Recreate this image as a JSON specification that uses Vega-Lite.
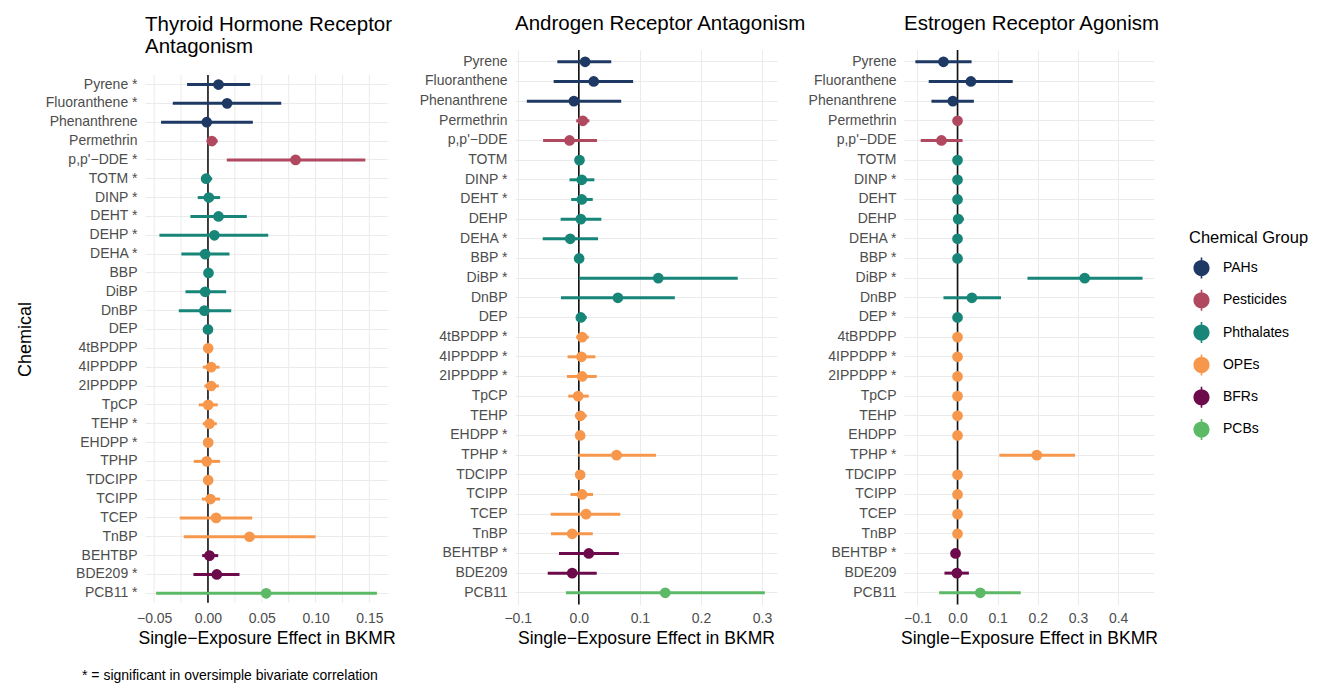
{
  "$schema": "https://vega.github.io/schema/vega-lite/v6.json",
  "background": "white",
  "padding": {"left": 16, "top": 14, "right": 5, "bottom": 5},
  "bounds": "flush",
  "align": "each",
  "spacing": 127,
  "title": {"text": "* = significant in oversimple bivariate correlation", "orient": "bottom", "anchor": "start", "frame": "bounds", "fontSize": 14, "offset": 33, "dx": 66, "baseline": "alphabetic", "color": "black"},
  "config": {
    "font": "Liberation Sans",
    "view": {"stroke": null},
    "axis": {"domain": false, "ticks": false, "labelFontSize": 14, "labelColor": "#4D4D4D", "titleFontSize": 17.6, "titleFontWeight": "normal", "titleColor": "black", "gridColor": "#EBEBEB", "gridWidth": 1},
    "axisX": {"labelPadding": 7, "titlePadding": 4},
    "axisY": {"labelPadding": 8},
    "title": {"fontSize": 20.5, "fontWeight": "normal", "anchor": "start", "frame": "group", "baseline": "alphabetic", "offset": 14.5, "lineHeight": 21.7, "color": "black"},
    "legend": {"titleFontSize": 16.5, "titleFontWeight": "normal", "titleColor": "black", "labelFontSize": 14, "labelColor": "black", "symbolSize": 260, "symbolType": "M-1,0A1,1 0 1,1 1,0A1,1 0 1,1 -1,0Z M-0.1,-1.3L0.1,-1.3L0.1,1.3L-0.1,1.3Z", "symbolStrokeWidth": 0, "rowPadding": 11.3, "labelOffset": 13, "symbolOffset": 4, "titlePadding": 13}
  },
  "datasets": {
    "g1": [{"v": -0.05}, {"v": -0.025}, {"v": 0}, {"v": 0.025}, {"v": 0.05}, {"v": 0.075}, {"v": 0.1}, {"v": 0.125}, {"v": 0.15}],
    "d": [
      {"p": "TH", "label": "Pyrene *", "grp": "PAHs", "est": 0.0098, "lo": -0.0194, "hi": 0.0392},
      {"p": "TH", "label": "Fluoranthene *", "grp": "PAHs", "est": 0.0178, "lo": -0.0327, "hi": 0.0681},
      {"p": "TH", "label": "Phenanthrene\u00a0\u00a0", "grp": "PAHs", "est": -0.0011, "lo": -0.0436, "hi": 0.0417},
      {"p": "TH", "label": "Permethrin\u00a0\u00a0", "grp": "Pesticides", "est": 0.0036, "lo": -0.0011, "hi": 0.0091},
      {"p": "TH", "label": "p,p'\u2212DDE *", "grp": "Pesticides", "est": 0.0814, "lo": 0.0175, "hi": 0.1462},
      {"p": "TH", "label": "TOTM *", "grp": "Phthalates", "est": -0.0017, "lo": -0.0064, "hi": 0.0039},
      {"p": "TH", "label": "DINP *", "grp": "Phthalates", "est": 0.0008, "lo": -0.0095, "hi": 0.0113},
      {"p": "TH", "label": "DEHT *", "grp": "Phthalates", "est": 0.0098, "lo": -0.0163, "hi": 0.0361},
      {"p": "TH", "label": "DEHP *", "grp": "Phthalates", "est": 0.006, "lo": -0.0451, "hi": 0.056},
      {"p": "TH", "label": "DEHA *", "grp": "Phthalates", "est": -0.0026, "lo": -0.0247, "hi": 0.02},
      {"p": "TH", "label": "BBP\u00a0\u00a0", "grp": "Phthalates", "est": 0.0005, "lo": -0.0017, "hi": 0.0026},
      {"p": "TH", "label": "DiBP\u00a0\u00a0", "grp": "Phthalates", "est": -0.0026, "lo": -0.0209, "hi": 0.0169},
      {"p": "TH", "label": "DnBP\u00a0\u00a0", "grp": "Phthalates", "est": -0.0033, "lo": -0.0271, "hi": 0.0216},
      {"p": "TH", "label": "DEP\u00a0\u00a0", "grp": "Phthalates", "est": 0, "lo": -0.002, "hi": 0.0017},
      {"p": "TH", "label": "4tBPDPP\u00a0\u00a0", "grp": "OPEs", "est": 0.0002, "lo": -0.0017, "hi": 0.002},
      {"p": "TH", "label": "4IPPDPP\u00a0\u00a0", "grp": "OPEs", "est": 0.0029, "lo": -0.0048, "hi": 0.0107},
      {"p": "TH", "label": "2IPPDPP\u00a0\u00a0", "grp": "OPEs", "est": 0.0029, "lo": -0.0033, "hi": 0.0101},
      {"p": "TH", "label": "TpCP\u00a0\u00a0", "grp": "OPEs", "est": 0.0002, "lo": -0.0085, "hi": 0.0091},
      {"p": "TH", "label": "TEHP *", "grp": "OPEs", "est": 0.0014, "lo": -0.0048, "hi": 0.0082},
      {"p": "TH", "label": "EHDPP *", "grp": "OPEs", "est": 0.0002, "lo": -0.002, "hi": 0.0023},
      {"p": "TH", "label": "TPHP\u00a0\u00a0", "grp": "OPEs", "est": -0.0011, "lo": -0.0132, "hi": 0.0113},
      {"p": "TH", "label": "TDCIPP\u00a0\u00a0", "grp": "OPEs", "est": 0.0002, "lo": -0.0017, "hi": 0.002},
      {"p": "TH", "label": "TCIPP\u00a0\u00a0", "grp": "OPEs", "est": 0.0023, "lo": -0.0057, "hi": 0.0113},
      {"p": "TH", "label": "TCEP\u00a0\u00a0", "grp": "OPEs", "est": 0.0076, "lo": -0.0262, "hi": 0.0411},
      {"p": "TH", "label": "TnBP\u00a0\u00a0", "grp": "OPEs", "est": 0.0386, "lo": -0.0225, "hi": 0.1},
      {"p": "TH", "label": "BEHTBP\u00a0\u00a0", "grp": "BFRs", "est": 0.0014, "lo": -0.0054, "hi": 0.0095},
      {"p": "TH", "label": "BDE209 *", "grp": "BFRs", "est": 0.0082, "lo": -0.0135, "hi": 0.0293},
      {"p": "TH", "label": "PCB11 *", "grp": "PCBs", "est": 0.0541, "lo": -0.0482, "hi": 0.157},

      {"p": "AR", "label": "Pyrene\u00a0\u00a0", "grp": "PAHs", "est": 0.0103, "lo": -0.0352, "hi": 0.0531},
      {"p": "AR", "label": "Fluoranthene\u00a0\u00a0", "grp": "PAHs", "est": 0.0244, "lo": -0.0412, "hi": 0.0889},
      {"p": "AR", "label": "Phenanthrene\u00a0\u00a0", "grp": "PAHs", "est": -0.0081, "lo": -0.0851, "hi": 0.0694},
      {"p": "AR", "label": "Permethrin\u00a0\u00a0", "grp": "Pesticides", "est": 0.0065, "lo": -0.0043, "hi": 0.0173},
      {"p": "AR", "label": "p,p'\u2212DDE\u00a0\u00a0", "grp": "Pesticides", "est": -0.0152, "lo": -0.0585, "hi": 0.0298},
      {"p": "AR", "label": "TOTM\u00a0\u00a0", "grp": "Phthalates", "est": 0.0011, "lo": -0.0027, "hi": 0.0049},
      {"p": "AR", "label": "DINP *", "grp": "Phthalates", "est": 0.0049, "lo": -0.0152, "hi": 0.0255},
      {"p": "AR", "label": "DEHT *", "grp": "Phthalates", "est": 0.0049, "lo": -0.0125, "hi": 0.0228},
      {"p": "AR", "label": "DEHP\u00a0\u00a0", "grp": "Phthalates", "est": 0.0033, "lo": -0.0298, "hi": 0.0369},
      {"p": "AR", "label": "DEHA *", "grp": "Phthalates", "est": -0.0141, "lo": -0.0591, "hi": 0.0314},
      {"p": "AR", "label": "BBP *", "grp": "Phthalates", "est": 0.0005, "lo": -0.0033, "hi": 0.0043},
      {"p": "AR", "label": "DiBP *", "grp": "Phthalates", "est": 0.1301, "lo": 0.0, "hi": 0.2602},
      {"p": "AR", "label": "DnBP\u00a0\u00a0", "grp": "Phthalates", "est": 0.064, "lo": -0.0293, "hi": 0.1572},
      {"p": "AR", "label": "DEP\u00a0\u00a0", "grp": "Phthalates", "est": 0.0033, "lo": -0.0027, "hi": 0.013},
      {"p": "AR", "label": "4tBPDPP *", "grp": "OPEs", "est": 0.0054, "lo": -0.0043, "hi": 0.0163},
      {"p": "AR", "label": "4IPPDPP *", "grp": "OPEs", "est": 0.0043, "lo": -0.0184, "hi": 0.0271},
      {"p": "AR", "label": "2IPPDPP *", "grp": "OPEs", "est": 0.0054, "lo": -0.0195, "hi": 0.0293},
      {"p": "AR", "label": "TpCP\u00a0\u00a0", "grp": "OPEs", "est": -0.0011, "lo": -0.0173, "hi": 0.0163},
      {"p": "AR", "label": "TEHP\u00a0\u00a0", "grp": "OPEs", "est": 0.0027, "lo": -0.0065, "hi": 0.013},
      {"p": "AR", "label": "EHDPP *", "grp": "OPEs", "est": 0.0022, "lo": -0.0016, "hi": 0.006},
      {"p": "AR", "label": "TPHP *", "grp": "OPEs", "est": 0.0618, "lo": -0.0016, "hi": 0.1263},
      {"p": "AR", "label": "TDCIPP\u00a0\u00a0", "grp": "OPEs", "est": 0.0022, "lo": -0.0016, "hi": 0.006},
      {"p": "AR", "label": "TCIPP\u00a0\u00a0", "grp": "OPEs", "est": 0.0054, "lo": -0.0136, "hi": 0.0233},
      {"p": "AR", "label": "TCEP\u00a0\u00a0", "grp": "OPEs", "est": 0.0119, "lo": -0.0461, "hi": 0.0678},
      {"p": "AR", "label": "TnBP\u00a0\u00a0", "grp": "OPEs", "est": -0.0108, "lo": -0.0455, "hi": 0.0228},
      {"p": "AR", "label": "BEHTBP *", "grp": "BFRs", "est": 0.0163, "lo": -0.0325, "hi": 0.0656},
      {"p": "AR", "label": "BDE209\u00a0\u00a0", "grp": "BFRs", "est": -0.0108, "lo": -0.0509, "hi": 0.0293},
      {"p": "AR", "label": "PCB11\u00a0\u00a0", "grp": "PCBs", "est": 0.1415, "lo": -0.0211, "hi": 0.3046},

      {"p": "ER", "label": "Pyrene\u00a0\u00a0", "grp": "PAHs", "est": -0.035, "lo": -0.105, "hi": 0.035},
      {"p": "ER", "label": "Fluoranthene\u00a0\u00a0", "grp": "PAHs", "est": 0.0333, "lo": -0.0717, "hi": 0.1375},
      {"p": "ER", "label": "Phenanthrene\u00a0\u00a0", "grp": "PAHs", "est": -0.0117, "lo": -0.065, "hi": 0.0408},
      {"p": "ER", "label": "Permethrin\u00a0\u00a0", "grp": "Pesticides", "est": 0, "lo": -0.005, "hi": 0.005},
      {"p": "ER", "label": "p,p'\u2212DDE\u00a0\u00a0", "grp": "Pesticides", "est": -0.04, "lo": -0.0917, "hi": 0.0125},
      {"p": "ER", "label": "TOTM\u00a0\u00a0", "grp": "Phthalates", "est": 0, "lo": -0.003, "hi": 0.003},
      {"p": "ER", "label": "DINP *", "grp": "Phthalates", "est": 0, "lo": -0.003, "hi": 0.003},
      {"p": "ER", "label": "DEHT\u00a0\u00a0", "grp": "Phthalates", "est": 0, "lo": -0.003, "hi": 0.003},
      {"p": "ER", "label": "DEHP\u00a0\u00a0", "grp": "Phthalates", "est": 0.0017, "lo": -0.0092, "hi": 0.0158},
      {"p": "ER", "label": "DEHA *", "grp": "Phthalates", "est": 0, "lo": -0.003, "hi": 0.003},
      {"p": "ER", "label": "BBP *", "grp": "Phthalates", "est": 0, "lo": -0.003, "hi": 0.003},
      {"p": "ER", "label": "DiBP *", "grp": "Phthalates", "est": 0.3167, "lo": 0.1742, "hi": 0.4608},
      {"p": "ER", "label": "DnBP\u00a0\u00a0", "grp": "Phthalates", "est": 0.0358, "lo": -0.035, "hi": 0.1083},
      {"p": "ER", "label": "DEP *", "grp": "Phthalates", "est": 0, "lo": -0.003, "hi": 0.003},
      {"p": "ER", "label": "4tBPDPP\u00a0\u00a0", "grp": "OPEs", "est": 0, "lo": -0.003, "hi": 0.003},
      {"p": "ER", "label": "4IPPDPP *", "grp": "OPEs", "est": 0, "lo": -0.003, "hi": 0.003},
      {"p": "ER", "label": "2IPPDPP *", "grp": "OPEs", "est": 0, "lo": -0.003, "hi": 0.003},
      {"p": "ER", "label": "TpCP\u00a0\u00a0", "grp": "OPEs", "est": 0, "lo": -0.003, "hi": 0.003},
      {"p": "ER", "label": "TEHP\u00a0\u00a0", "grp": "OPEs", "est": 0, "lo": -0.003, "hi": 0.003},
      {"p": "ER", "label": "EHDPP\u00a0\u00a0", "grp": "OPEs", "est": 0, "lo": -0.003, "hi": 0.003},
      {"p": "ER", "label": "TPHP *", "grp": "OPEs", "est": 0.1975, "lo": 0.1042, "hi": 0.2925},
      {"p": "ER", "label": "TDCIPP\u00a0\u00a0", "grp": "OPEs", "est": 0, "lo": -0.003, "hi": 0.003},
      {"p": "ER", "label": "TCIPP\u00a0\u00a0", "grp": "OPEs", "est": 0, "lo": -0.003, "hi": 0.003},
      {"p": "ER", "label": "TCEP\u00a0\u00a0", "grp": "OPEs", "est": 0, "lo": -0.003, "hi": 0.003},
      {"p": "ER", "label": "TnBP\u00a0\u00a0", "grp": "OPEs", "est": 0, "lo": -0.003, "hi": 0.003},
      {"p": "ER", "label": "BEHTBP *", "grp": "BFRs", "est": -0.005, "lo": -0.0133, "hi": 0.0033},
      {"p": "ER", "label": "BDE209\u00a0\u00a0", "grp": "BFRs", "est": -0.0017, "lo": -0.0325, "hi": 0.0283},
      {"p": "ER", "label": "PCB11\u00a0\u00a0", "grp": "PCBs", "est": 0.0567, "lo": -0.0458, "hi": 0.1575}
    ]
  },
  "hconcat": [
    {
      "width": 243,
      "height": 554.6,
      "title": {"text": ["Thyroid Hormone Receptor", "Antagonism"], "offset": -7.2},
      "layer": [
        {
          "data": {"name": "g1"},
          "mark": {"type": "rule", "color": "#EBEBEB", "strokeWidth": 1},
          "encoding": {
            "x": {"field": "v", "type": "quantitative", "title": "Single\u2212Exposure Effect in BKMR",
                  "scale": {"domain": [-0.0585, 0.1673], "nice": false, "zero": false},
                  "axis": {"values": [-0.05, 0, 0.05, 0.1, 0.15], "format": ".2f", "grid": false, "title": "Single\u2212Exposure Effect in BKMR"}},
            "y": {"datum": "Pyrene *", "type": "nominal", "bandPosition": 0,
                  "scale": {"type": "band", "paddingInner": 0, "paddingOuter": 0, "range": [25.1, 552.7],
                            "domain": ["Pyrene *", "Fluoranthene *", "Phenanthrene\u00a0\u00a0", "Permethrin\u00a0\u00a0", "p,p'\u2212DDE *", "TOTM *", "DINP *", "DEHT *", "DEHP *", "DEHA *", "BBP\u00a0\u00a0", "DiBP\u00a0\u00a0", "DnBP\u00a0\u00a0", "DEP\u00a0\u00a0", "4tBPDPP\u00a0\u00a0", "4IPPDPP\u00a0\u00a0", "2IPPDPP\u00a0\u00a0", "TpCP\u00a0\u00a0", "TEHP *", "EHDPP *", "TPHP\u00a0\u00a0", "TDCIPP\u00a0\u00a0", "TCIPP\u00a0\u00a0", "TCEP\u00a0\u00a0", "TnBP\u00a0\u00a0", "BEHTBP\u00a0\u00a0", "BDE209 *", "PCB11 *"]},
                  "axis": {"grid": true, "title": "Chemical", "titleFontSize": 18, "titleX": -120, "titleY": 289, "titleBaseline": "middle", "titleAngle": -90}},
            "y2": {"datum": "PCB11 *", "bandPosition": 1}
          }
        },
        {
          "data": {"values": [{}]},
          "mark": {"type": "rule", "color": "#111111", "strokeWidth": 1.6},
          "encoding": {
            "x": {"datum": 0, "type": "quantitative"},
            "y": {"datum": "Pyrene *", "type": "nominal", "bandPosition": 0},
            "y2": {"datum": "PCB11 *", "bandPosition": 1}
          }
        },
        {
          "data": {"name": "d"},
          "transform": [{"filter": "datum.p == 'TH'"}],
          "mark": {"type": "rule", "strokeWidth": 3},
          "encoding": {
            "x": {"field": "lo", "type": "quantitative", "title": "Single\u2212Exposure Effect in BKMR"},
            "x2": {"field": "hi"},
            "y": {"field": "label", "type": "nominal", "title": "Chemical"},
            "color": {"field": "grp", "type": "nominal", "scale": {"domain": ["PAHs", "Pesticides", "Phthalates", "OPEs", "BFRs", "PCBs"], "range": ["#1E3A64", "#B0485F", "#178577", "#F6974B", "#6C0A4C", "#5CBA67"]},
                      "legend": {"title": "Chemical Group", "orient": "none", "legendX": 1044, "legendY": 180}}
          }
        },
        {
          "data": {"name": "d"},
          "transform": [{"filter": "datum.p == 'TH'"}],
          "mark": {"type": "point", "filled": true, "size": 115, "opacity": 1},
          "encoding": {
            "x": {"field": "est", "type": "quantitative", "title": "Single\u2212Exposure Effect in BKMR"},
            "y": {"field": "label", "type": "nominal", "title": "Chemical"},
            "color": {"field": "grp", "type": "nominal"}
          }
        }
      ]
    },
    {
      "width": 262,
      "height": 554.6,
      "title": {"text": "Androgen Receptor Antagonism"},
      "data": {"name": "d"},
      "transform": [{"filter": "datum.p == 'AR'"}],
      "layer": [
        {
          "data": {"values": [{}]},
          "mark": {"type": "rule", "color": "#111111", "strokeWidth": 1.6},
          "encoding": {
            "x": {"datum": 0, "type": "quantitative",
                  "scale": {"domain": [-0.1045, 0.3245], "nice": false, "zero": false},
                  "axis": {"values": [-0.1, -0.05, 0, 0.05, 0.1, 0.15, 0.2, 0.25, 0.3], "format": ".1f", "labelExpr": "round(datum.value*20) % 2 == 0 ? datum.label : ''", "grid": true, "title": "Single\u2212Exposure Effect in BKMR"}}
          }
        },
        {
          "mark": {"type": "rule", "strokeWidth": 3},
          "encoding": {
            "x": {"field": "lo", "type": "quantitative", "title": "Single\u2212Exposure Effect in BKMR"},
            "x2": {"field": "hi"},
            "y": {"field": "label", "type": "nominal",
                  "scale": {"type": "band", "paddingInner": 0, "paddingOuter": 0.1,
                            "domain": ["Pyrene\u00a0\u00a0", "Fluoranthene\u00a0\u00a0", "Phenanthrene\u00a0\u00a0", "Permethrin\u00a0\u00a0", "p,p'\u2212DDE\u00a0\u00a0", "TOTM\u00a0\u00a0", "DINP *", "DEHT *", "DEHP\u00a0\u00a0", "DEHA *", "BBP *", "DiBP *", "DnBP\u00a0\u00a0", "DEP\u00a0\u00a0", "4tBPDPP *", "4IPPDPP *", "2IPPDPP *", "TpCP\u00a0\u00a0", "TEHP\u00a0\u00a0", "EHDPP *", "TPHP *", "TDCIPP\u00a0\u00a0", "TCIPP\u00a0\u00a0", "TCEP\u00a0\u00a0", "TnBP\u00a0\u00a0", "BEHTBP *", "BDE209\u00a0\u00a0", "PCB11\u00a0\u00a0"]},
                  "axis": {"grid": true, "title": null}},
            "color": {"field": "grp", "type": "nominal", "legend": {"title": "Chemical Group", "orient": "none", "legendX": 1044, "legendY": 180}}
          }
        },
        {
          "mark": {"type": "point", "filled": true, "size": 115, "opacity": 1},
          "encoding": {
            "x": {"field": "est", "type": "quantitative", "title": "Single\u2212Exposure Effect in BKMR"},
            "y": {"field": "label", "type": "nominal", "title": null},
            "color": {"field": "grp", "type": "nominal"}
          }
        }
      ]
    },
    {
      "width": 250,
      "height": 554.6,
      "title": {"text": "Estrogen Receptor Agonism"},
      "data": {"name": "d"},
      "transform": [{"filter": "datum.p == 'ER'"}],
      "layer": [
        {
          "data": {"values": [{}]},
          "mark": {"type": "rule", "color": "#111111", "strokeWidth": 1.6},
          "encoding": {
            "x": {"datum": 0, "type": "quantitative",
                  "scale": {"domain": [-0.1333, 0.4893], "nice": false, "zero": false},
                  "axis": {"values": [-0.1, -0.05, 0, 0.05, 0.1, 0.15, 0.2, 0.25, 0.3, 0.35, 0.4, 0.45], "format": ".1f", "labelExpr": "round(datum.value*20) % 2 == 0 ? datum.label : ''", "grid": true, "title": "Single\u2212Exposure Effect in BKMR"}}
          }
        },
        {
          "mark": {"type": "rule", "strokeWidth": 3},
          "encoding": {
            "x": {"field": "lo", "type": "quantitative", "title": "Single\u2212Exposure Effect in BKMR"},
            "x2": {"field": "hi"},
            "y": {"field": "label", "type": "nominal",
                  "scale": {"type": "band", "paddingInner": 0, "paddingOuter": 0.1,
                            "domain": ["Pyrene\u00a0\u00a0", "Fluoranthene\u00a0\u00a0", "Phenanthrene\u00a0\u00a0", "Permethrin\u00a0\u00a0", "p,p'\u2212DDE\u00a0\u00a0", "TOTM\u00a0\u00a0", "DINP *", "DEHT\u00a0\u00a0", "DEHP\u00a0\u00a0", "DEHA *", "BBP *", "DiBP *", "DnBP\u00a0\u00a0", "DEP *", "4tBPDPP\u00a0\u00a0", "4IPPDPP *", "2IPPDPP *", "TpCP\u00a0\u00a0", "TEHP\u00a0\u00a0", "EHDPP\u00a0\u00a0", "TPHP *", "TDCIPP\u00a0\u00a0", "TCIPP\u00a0\u00a0", "TCEP\u00a0\u00a0", "TnBP\u00a0\u00a0", "BEHTBP *", "BDE209\u00a0\u00a0", "PCB11\u00a0\u00a0"]},
                  "axis": {"grid": true, "title": null}},
            "color": {"field": "grp", "type": "nominal", "legend": {"title": "Chemical Group", "orient": "none", "legendX": 1044, "legendY": 180}}
          }
        },
        {
          "mark": {"type": "point", "filled": true, "size": 115, "opacity": 1},
          "encoding": {
            "x": {"field": "est", "type": "quantitative", "title": "Single\u2212Exposure Effect in BKMR"},
            "y": {"field": "label", "type": "nominal", "title": null},
            "color": {"field": "grp", "type": "nominal"}
          }
        }
      ]
    }
  ]
}
